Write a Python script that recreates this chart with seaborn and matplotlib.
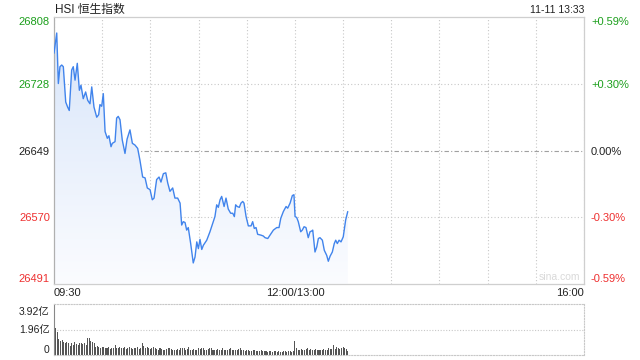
import numpy as np
import pandas as pd
import matplotlib
matplotlib.use("Agg")
import matplotlib.pyplot as plt
import seaborn as sns
from matplotlib.colors import LinearSegmentedColormap
from matplotlib.transforms import ScaledTranslation

# ---------------- data ----------------
title = "HSI 恒生指数"
stamp = "11-11 13:33"
prev_close = 26649

# minutes after 09:30 (trading minutes, lunch break removed)
minutes = [0.0, 1.7, 2.7, 3.7, 4.8, 5.8, 7.3, 8.5, 9.5, 11.0, 12.0, 13.1, 14.5, 15.8, 16.8, 18.2,
           19.7, 21.0, 22.4, 23.5, 24.9, 26.6, 27.8, 28.6, 29.7, 30.7, 31.8, 33.2, 34.2, 35.5, 36.3,
           38.0, 39.0, 40.0, 41.1, 42.5, 44.2, 45.5, 47.3, 48.8, 50.4, 52.1, 53.5, 55.2, 56.7, 58.1,
           59.8, 61.2, 62.3, 63.9, 65.4, 66.6, 68.1, 69.6, 70.8, 72.2, 73.9, 75.3, 77.0, 78.5, 79.5,
           80.5, 81.6, 82.6, 83.6, 85.1, 86.7, 87.8, 88.9, 89.9, 90.9, 92.0, 93.0, 95.1, 97.1, 99.2,
           100.2, 101.3, 102.3, 103.4, 104.4, 105.9, 107.1, 108.5, 110.0, 111.3, 112.3, 113.1, 114.1,
           115.4, 116.4, 117.5, 118.3, 119.6, 121.0, 122.7, 123.7, 124.7, 125.8, 126.8, 128.9, 130.3,
           131.4, 133.1, 134.5, 136.6, 138.7, 140.1, 141.2, 142.8, 144.5, 145.5, 147.0, 148.4, 149.4,
           150.1, 151.1, 152.1, 153.6, 154.6, 155.7, 156.9, 158.3, 159.4, 160.5, 161.1, 162.5, 163.6,
           164.6, 165.6, 167.1, 168.3, 169.8, 170.8, 171.9, 173.3, 174.5, 175.4, 176.4, 177.5, 178.7,
           180.1, 181.6, 182.9]
prices = [26765, 26789, 26729, 26749, 26751, 26749, 26707, 26701, 26697, 26745, 26749, 26733, 26753,
          26721, 26727, 26711, 26719, 26709, 26705, 26725, 26701, 26689, 26692, 26704, 26702, 26717,
          26672, 26664, 26667, 26654, 26658, 26660, 26688, 26690, 26686, 26662, 26646, 26663, 26674,
          26658, 26656, 26652, 26638, 26618, 26617, 26605, 26603, 26591, 26593, 26615, 26618, 26612,
          26622, 26623, 26611, 26601, 26605, 26593, 26593, 26587, 26561, 26565, 26564, 26555, 26558,
          26539, 26516, 26523, 26541, 26533, 26544, 26532, 26537, 26543, 26553, 26565, 26571, 26585,
          26582, 26591, 26595, 26583, 26593, 26580, 26575, 26575, 26571, 26585, 26583, 26582, 26587,
          26589, 26587, 26571, 26560, 26560, 26565, 26557, 26558, 26550, 26549, 26548, 26546, 26545,
          26549, 26555, 26558, 26558, 26569, 26577, 26583, 26581, 26587, 26596, 26597, 26571, 26570,
          26565, 26553, 26555, 26559, 26558, 26546, 26553, 26554, 26555, 26529, 26535, 26545, 26546,
          26543, 26531, 26525, 26518, 26524, 26529, 26539, 26543, 26539, 26543, 26541, 26547, 26567,
          26577]

# volume per minute (亿)
volumes = [3.92, 2.1, 1.75, 1.2, 1.1, 1.15, 1.0, 0.95, 1.0, 0.9,
           0.7, 0.9, 0.8, 1.0, 0.85, 0.78, 0.95, 0.9, 0.85, 0.95,
           0.75, 1.3, 1.3, 1.1, 1.0, 0.9, 0.65, 0.72, 0.65, 0.57,
           0.65, 0.6, 0.52, 0.57, 0.65, 0.47, 0.52, 0.57, 0.78, 0.52,
           0.5, 0.6, 0.55, 0.5, 0.62, 0.48, 0.55, 0.6, 0.5, 0.45,
           0.55, 0.5, 0.62, 0.48, 0.5, 0.9, 0.7, 0.55, 0.6, 0.5,
           0.45, 0.55, 0.6, 0.5, 0.45, 0.4, 0.5, 0.45, 0.42, 0.4,
           0.45, 0.5, 0.55, 0.45, 0.4, 0.42, 0.38, 0.45, 0.4, 0.5,
           0.55, 0.5, 0.4, 0.45, 0.6, 0.35, 0.42, 0.45, 0.4, 0.38,
           0.5, 0.45, 0.55, 0.5, 0.42, 0.4, 0.45, 0.5, 0.55, 0.42,
           0.35, 0.4, 0.45, 0.38, 0.42, 0.5, 0.4, 0.35, 0.38, 0.45,
           0.5, 0.42, 0.38, 0.35, 0.4, 0.45, 0.5, 0.38, 0.35, 0.3,
           0.35, 0.4, 0.32, 0.3, 0.35, 0.38, 0.3, 0.28, 0.32, 0.35,
           0.3, 0.28, 0.3, 0.25, 0.28, 0.3, 0.25, 0.28, 0.3, 0.25,
           0.28, 0.22, 0.25, 0.3, 0.28, 0.25, 0.3, 0.28, 0.25, 0.3,
           1.05, 0.5, 0.42, 0.4, 0.45, 0.42, 0.4, 0.45, 0.5, 0.42,
           0.45, 0.4, 0.38, 0.45, 0.42, 0.4, 0.38, 0.42, 0.45, 0.4,
           0.42, 0.5, 0.45, 0.48, 0.8, 0.45, 0.6, 0.5, 0.45, 0.55,
           0.6, 0.5, 0.45, 0.3]

price_ticks = [26491, 26570, 26649, 26728, 26808]
price_labels = ["26491", "26570", "26649", "26728", "26808"]
pct_labels = ["-0.59%", "-0.30%", "0.00%", "+0.30%", "+0.59%"]
time_ticks = [0, 150, 330]
time_labels = ["09:30", "12:00/13:00", "16:00"]
vol_ticks = [0, 1.96, 3.92]
vol_labels = ["0", "1.96亿", "3.92亿"]
session_minutes = 330

# ---------------- style ----------------
sns.set_style("white")
plt.rcParams["font.family"] = ["Liberation Sans", "Noto Sans CJK SC", "DejaVu Sans"]

GREEN = "#1c9f1c"
RED = "#ee3030"
BLACK = "#222222"
LINE = "#4184ec"
GRID = "#c8c8c8"
label_colors = [RED, RED, BLACK, GREEN, GREEN]

fig = plt.figure(figsize=(6.4, 3.6), dpi=100)
W, H = 640, 360
ax = fig.add_axes([54 / W, 1 - 284 / H, 530 / W, 267 / H])
ymin, ymax = price_ticks[0], price_ticks[-1]

df = pd.DataFrame({"minute": minutes, "price": prices})

# gradient fill under the line
poly = ax.fill_between(df["minute"], df["price"], ymin, color="none", lw=0)
grad = np.linspace(0, 1, 256).reshape(-1, 1)
cmap = LinearSegmentedColormap.from_list("g", ["#d6e4f9", "#fbfcff"])
im = ax.imshow(grad, aspect="auto", cmap=cmap, origin="upper",
               extent=[0, session_minutes, ymin, ymax], zorder=1)
im.set_clip_path(poly.get_paths()[0], transform=ax.transData)

sns.lineplot(data=df, x="minute", y="price", ax=ax, color=LINE, lw=1.0, zorder=3)

ax.set_xlim(0, session_minutes)
ax.set_ylim(ymin, ymax)
ax.set_xlabel("")
ax.set_ylabel("")

# grid
for t in range(0, session_minutes + 1, 30):
    ax.axvline(t, color=GRID, ls=(0, (1, 2)), lw=0.8, zorder=0)
for i, yv in enumerate(price_ticks):
    if yv == prev_close:
        ax.axhline(yv, color="#a0a0a0", ls=(0, (4, 2, 1, 2)), lw=0.8, zorder=0)
    elif 0 < i < len(price_ticks) - 1:
        ax.axhline(yv, color=GRID, ls=(0, (1, 2)), lw=0.8, zorder=0)

for s in ax.spines.values():
    s.set_color("#cfcfcf")
    s.set_linewidth(0.9)
ax.spines["left"].set_color("#b0b0b0")

ax.set_yticks(price_ticks)
ax.set_yticklabels(price_labels, fontsize=8)
ax.tick_params(axis="both", length=0, pad=3)
for lab, c in zip(ax.get_yticklabels(), label_colors):
    lab.set_color(c)
ylabs = ax.get_yticklabels()
ylabs[0].set_va("bottom")
ylabs[-1].set_va("top")

ax.set_xticks(time_ticks)
ax.set_xticklabels(time_labels, fontsize=8, color=BLACK)
xl = ax.get_xticklabels()
xl[0].set_ha("left")
xl[-1].set_ha("right")

ax2r = ax.twinx()
ax2r.set_ylim(ymin, ymax)
ax2r.set_yticks(price_ticks)
ax2r.set_yticklabels(pct_labels, fontsize=8)
ax2r.tick_params(axis="y", length=0, pad=5)
for lab, c in zip(ax2r.get_yticklabels(), label_colors):
    lab.set_color(c)
rl = ax2r.get_yticklabels()
rl[0].set_va("bottom")
rl[-1].set_va("top")
for s in ax2r.spines.values():
    s.set_visible(False)

ax.text(0.993, 0.008, "sina.com", transform=ax.transAxes, ha="right", va="bottom",
        color="#d9d9d9", fontsize=7.5, zorder=2)

# ---------------- volume ----------------
axv = fig.add_axes([54 / W, 1 - 355 / H, 530 / W, 51 / H])
vdf = pd.DataFrame({"minute": np.arange(len(volumes)), "vol": volumes})
sns.barplot(data=vdf, x="minute", y="vol", ax=axv, native_scale=True, width=0.65,
            color="#555555", saturation=1, errorbar=None, linewidth=0)
axv.set_xlim(0, session_minutes)
axv.set_ylim(0, vol_ticks[-1])
axv.set_xlabel("")
axv.set_ylabel("")
axv.set_xticks([])
axv.set_yticks(vol_ticks)
axv.set_yticklabels(vol_labels, fontsize=7.5, color=BLACK)
axv.tick_params(axis="y", length=0, pad=3)
vl = axv.get_yticklabels()
vl[0].set_va("bottom")
vl[-1].set_va("top")
vl[-1].set_transform(vl[-1].get_transform() + ScaledTranslation(0, -3 / 100, fig.dpi_scale_trans))
axv.axhline(vol_ticks[1], color=GRID, ls=(0, (1, 1.5)), lw=0.8, zorder=0)
for name, s in axv.spines.items():
    s.set_color(GRID)
    s.set_linewidth(0.8)
    s.set_linestyle((0, (1, 1.5)))
axv.spines["left"].set_linestyle("-")
axv.spines["left"].set_color("#888888")

# ---------------- titles ----------------
fig.text(55 / W, 1 - 10 / H, title, ha="left", va="center", fontsize=8.5, color=BLACK)
fig.text(584 / W, 1 - 10 / H, stamp, ha="right", va="center", fontsize=7.5, color=BLACK)

fig.savefig("out.png", dpi=100)
